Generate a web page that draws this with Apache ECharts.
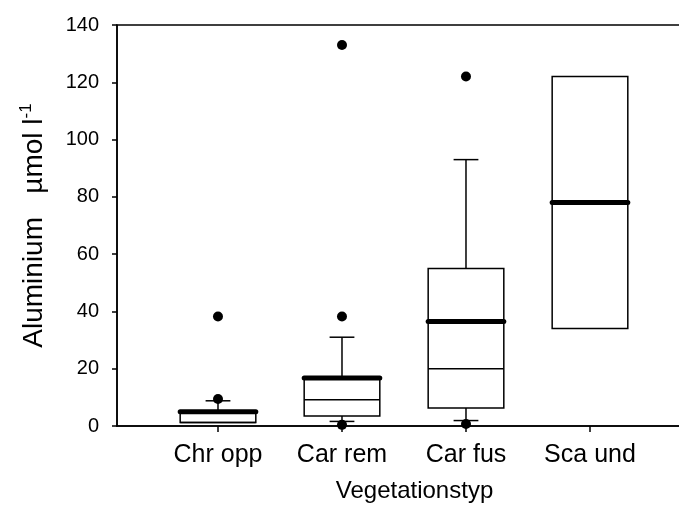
<!DOCTYPE html>
<html>
<head>
<meta charset="utf-8">
<script src="https://cdn.jsdelivr.net/npm/echarts@6/dist/echarts.min.js"></script>
<style>
  html, body { margin: 0; padding: 0; background: #fff; }
  #chart { width: 679px; height: 507px; }
</style>
</head>
<body>
<div id="chart"></div>
<script>
// values
const categories = ['Chr opp', 'Car rem', 'Car fus', 'Sca und']
const positions = [1, 2, 3, 4]
const whiskerLow = [null, 1.6, 1.9, null]
const q1 = [1.2, 3.5, 6.3, 34]
const medians = [1.2, 9.2, 20, 78]
const q3 = [5, 16.8, 55, 122]
const whiskerHigh = [8.8, 31, 93, null]
const means = [5, 16.8, 36.5, 78]
const outlierPos = [1, 1, 2, 2, 2, 3, 3]
const outlierVal = [38.2, 9.4, 133, 38.2, 0.4, 122, 0.7]

const font = 'Liberation Sans, Arial, sans-serif'
const chart = echarts.init(document.getElementById('chart'))

const boxData = positions.map((p, i) => [p, whiskerLow[i], q1[i], medians[i], q3[i], whiskerHigh[i], means[i]])

const renderBox = (params, api) => {
  const x = api.value(0)
  const pt = v => api.coord([x, v])
  const left = api.coord([x - 0.305, 0])[0]
  const right = api.coord([x + 0.305, 0])[0]
  const capL = api.coord([x - 0.1, 0])[0]
  const capR = api.coord([x + 0.1, 0])[0]
  const cx = pt(0)[0]
  const thin = { stroke: '#000', lineWidth: 1.5, fill: null }
  const children = []

  const lo = api.value(1), b1 = api.value(2), med = api.value(3), b3 = api.value(4), hi = api.value(5), mean = api.value(6)
  // whiskers + caps
  if (Number.isFinite(hi)) {
    children.push({ type: 'line', shape: { x1: cx, y1: pt(b3)[1], x2: cx, y2: pt(hi)[1] }, style: thin })
    children.push({ type: 'line', shape: { x1: capL, y1: pt(hi)[1], x2: capR, y2: pt(hi)[1] }, style: thin })
  }
  if (Number.isFinite(lo)) {
    children.push({ type: 'line', shape: { x1: cx, y1: pt(b1)[1], x2: cx, y2: pt(lo)[1] }, style: thin })
    children.push({ type: 'line', shape: { x1: capL, y1: pt(lo)[1], x2: capR, y2: pt(lo)[1] }, style: thin })
  }
  const top = pt(b3)[1], bottom = pt(b1)[1]
  children.push({ type: 'rect', shape: { x: left, y: top, width: right - left, height: bottom - top }, style: { stroke: '#000', lineWidth: 1.5, fill: '#fff' } })
  children.push({ type: 'line', shape: { x1: left, y1: pt(med)[1], x2: right, y2: pt(med)[1] }, style: thin })
  children.push({ type: 'line', shape: { x1: left, y1: pt(mean)[1], x2: right, y2: pt(mean)[1] }, style: { stroke: '#000', lineWidth: 5, lineCap: 'round' } })
  return { type: 'group', children }
}

chart.setOption({
  animation: false,
  backgroundColor: '#fff',
  textStyle: { fontFamily: font, color: '#000' },
  // plot area runs past the right edge of the picture
  grid: { left: 117, right: -33, top: 25, bottom: 81, show: true, borderColor: '#000', borderWidth: 1.5, containLabel: false, outerBoundsMode: 'none' },
  xAxis: {
    type: 'value',
    min: 0.1855,
    max: 4.984,
    name: 'Vegetationstyp',
    nameLocation: 'middle',
    nameGap: 53,
    nameTextStyle: { fontSize: 24, color: '#000', fontFamily: font },
    axisLine: { show: true, onZero: false, lineStyle: { color: '#000', width: 1.5 } },
    axisTick: { show: true, inside: false, length: 6, customValues: positions, lineStyle: { color: '#000', width: 1.5 } },
    axisLabel: { customValues: positions, formatter: v => categories[Math.round(v) - 1] || '', fontSize: 25, color: '#000', margin: 17, fontFamily: font },
    splitLine: { show: false }
  },
  yAxis: {
    type: 'value',
    min: 0,
    max: 140,
    interval: 20,
    name: '{a|Aluminium   µmol l}{s|-1}',
    nameLocation: 'middle',
    nameRotate: 90,
    nameGap: 66,
    nameTextStyle: {
      color: '#000',
      rich: {
        a: { fontSize: 28, fontFamily: font, color: '#000' },
        s: { fontSize: 17, fontFamily: font, color: '#000', verticalAlign: 'top', padding: [0, 0, 16, 0] }
      }
    },
    axisLine: { show: true, lineStyle: { color: '#000', width: 1.5 } },
    axisTick: { show: true, inside: false, length: 5, lineStyle: { color: '#000', width: 1.5 } },
    axisLabel: { fontSize: 20, color: '#000', margin: 18, fontFamily: font },
    splitLine: { show: false }
  },
  series: [
    {
      type: 'custom',
      renderItem: renderBox,
      encode: { x: 0, y: [1, 2, 3, 4, 5, 6] },
      data: boxData,
      z: 2
    },
    {
      type: 'scatter',
      symbol: 'circle',
      symbolSize: 10,
      itemStyle: { color: '#000', opacity: 1 },
      data: outlierPos.map((p, i) => [p, outlierVal[i]]),
      z: 3
    }
  ]
})
</script>
</body>
</html>
